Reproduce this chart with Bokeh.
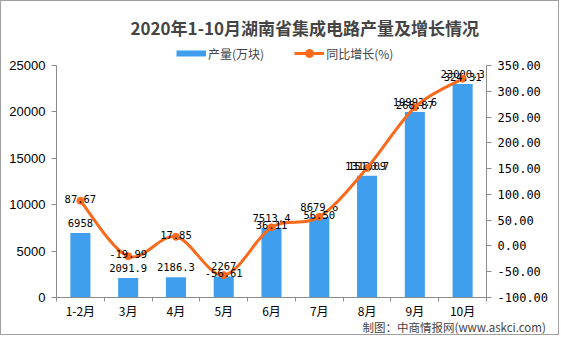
from bokeh.plotting import figure
from bokeh.models import (Range1d, LinearAxis, FixedTicker, NumeralTickFormatter,
                          ColumnDataSource, Legend, LegendItem, Title)
from bokeh.embed import file_html
from bokeh.resources import INLINE
from bokeh.core.properties import value

# ---- data ----
months = ["1-2月", "3月", "4月", "5月", "6月", "7月", "8月", "9月", "10月"]
output = [6958, 2091.9, 2186.3, 2267, 7513.4, 8679.6, 13130.7, 19993.6, 23000.3]
growth = [87.67, -19.99, 17.85, -56.61, 36.11, 56.50, 151.09, 268.87, 324.31]
left_ticks = [0, 5000, 10000, 15000, 20000, 25000]
right_ticks = [-100, -50, 0, 50, 100, 150, 200, 250, 300, 350]

BAR = "#409EEF"
ORANGE = "#FA6A1C"
AXIS = "#8c8c8c"
CJK = "Noto Sans CJK SC"
NAN = float("nan")

# layout (pixels): the frame reaches above the top tick to host the legend
FRAME_TOP, AXIS_TOP, FRAME_BOTTOM = 40, 65, 297
head = (FRAME_BOTTOM - FRAME_TOP) / (FRAME_BOTTOM - AXIS_TOP)

n = len(months)
xc = [i + 0.5 for i in range(n)]
bounds = list(range(n + 1))

l0, l1 = left_ticks[0], left_ticks[-1]
r0, r1 = right_ticks[0], right_ticks[-1]

p = figure(width=559, height=335, output_backend="svg", toolbar_location=None,
           x_range=Range1d(0, n), y_range=Range1d(l0, l0 + (l1 - l0) * head),
           min_border_left=55, min_border_right=74, min_border_top=FRAME_TOP - 1,
           min_border_bottom=335 - (FRAME_BOTTOM - 1), outline_line_color=None,
           background_fill_color="white", border_fill_color="white")
p.extra_y_ranges = {"growth": Range1d(r0, r0 + (r1 - r0) * head)}
p.grid.visible = False
p.styles = {"border": "1px solid #a0a0a0"}

# x axis
xa = p.xaxis[0]
xa.ticker = FixedTicker(ticks=xc, minor_ticks=bounds)
xa.major_label_overrides = {x: m for x, m in zip(xc, months)}
xa.major_tick_line_color = None
xa.major_tick_in = 0
xa.major_tick_out = 0
xa.minor_tick_in = 0
xa.minor_tick_out = 4
xa.minor_tick_line_color = AXIS
xa.axis_line_color = AXIS
xa.major_label_standoff = 0
xa.major_label_text_font = CJK
xa.major_label_text_font_size = "12px"
xa.major_label_text_color = "black"

# left axis
ya = p.yaxis[0]
ya.bounds = (l0, l1)
ya.ticker = FixedTicker(ticks=left_ticks)
ya.formatter = NumeralTickFormatter(format="0")
ya.major_tick_in = 0
ya.major_tick_out = 5
ya.minor_tick_line_color = None
ya.axis_line_color = AXIS
ya.major_tick_line_color = AXIS
ya.major_label_standoff = 6
ya.major_label_text_font = "Liberation Sans"
ya.major_label_text_font_size = "13px"
ya.major_label_text_color = "black"

# right axis
ra = LinearAxis(y_range_name="growth", ticker=FixedTicker(ticks=right_ticks),
                formatter=NumeralTickFormatter(format="0.00"), bounds=(r0, r1))
ra.major_tick_in = 0
ra.major_tick_out = 5
ra.minor_tick_line_color = None
ra.axis_line_color = AXIS
ra.major_tick_line_color = AXIS
ra.major_label_standoff = 6
ra.major_label_text_font = "DejaVu Sans Mono"
ra.major_label_text_font_size = "12px"
ra.major_label_text_color = "black"
p.add_layout(ra, "right")

src = ColumnDataSource(dict(
    x=xc, top=output, label=[f"{v:g}" for v in output],
    g=growth, glabel=[f"{v:.2f}" for v in growth]))

# bars
p.vbar(x="x", top="top", bottom=0, width=0.42, source=src,
       fill_color=BAR, line_color=None)
p.text(x="x", y="top", text="label", source=src, text_align="center",
       text_baseline="bottom", y_offset=-6, text_font=value("DejaVu Sans Mono"),
       text_font_size="10.5px", text_color="black")

# smooth growth line (Catmull-Rom -> cubic Bezier through the data points)
pts = list(zip(xc, growth))
bx0, by0, bx1, by1, bcx0, bcy0, bcx1, bcy1 = ([] for _ in range(8))
for i in range(n - 1):
    p0 = pts[max(i - 1, 0)]
    p1 = pts[i]
    p2 = pts[i + 1]
    p3 = pts[min(i + 2, n - 1)]
    bx0.append(p1[0]); by0.append(p1[1])
    bx1.append(p2[0]); by1.append(p2[1])
    bcx0.append(p1[0] + (p2[0] - p0[0]) / 6)
    bcy0.append(p1[1] + (p2[1] - p0[1]) / 6)
    bcx1.append(p2[0] - (p3[0] - p1[0]) / 6)
    bcy1.append(p2[1] - (p3[1] - p1[1]) / 6)
p.bezier(x0=bx0, y0=by0, x1=bx1, y1=by1, cx0=bcx0, cy0=bcy0, cx1=bcx1, cy1=bcy1,
         line_color=ORANGE, line_width=3, y_range_name="growth")
p.scatter(x="x", y="g", source=src, size=7, fill_color=ORANGE, line_color=ORANGE,
          y_range_name="growth")
p.text(x="x", y="g", text="glabel", source=src, text_align="center",
       text_baseline="middle", y_offset=-2, text_font=value("DejaVu Sans Mono"),
       text_font_size="10.5px", text_color="black", y_range_name="growth")

# legend (invisible proxy renderers), placed in the headroom above the axes
leg_bar = p.line(x=[NAN], y=[NAN], line_color=BAR, line_width=6, line_cap="butt")
leg_line = p.line(x=[NAN], y=[NAN], line_color=ORANGE, line_width=3)
leg_dot = p.scatter(x=[NAN], y=[NAN], size=7, fill_color=ORANGE, line_color=ORANGE)
legend = Legend(items=[LegendItem(label="产量(万块)", renderers=[leg_bar]),
                       LegendItem(label="同比增长(%)", renderers=[leg_line, leg_dot])],
                orientation="horizontal", glyph_width=30, glyph_height=20,
                label_standoff=2, spacing=30, padding=2, margin=0,
                border_line_color=None, background_fill_alpha=0,
                label_text_font=CJK, label_text_font_size="12px",
                location=(120, FRAME_BOTTOM - 63))
p.add_layout(legend, "center")

# title
p.title.text = "2020年1-10月湖南省集成电路产量及增长情况"
p.title.text_font = CJK
p.title.text_font_size = "17px"
p.title.text_font_style = "bold"
p.title.align = "left"
p.title.offset = 74
p.title.standoff = 2

# source note
p.add_layout(Title(text="制图：中商情报网(www.askci.com)", text_font=CJK,
                   text_font_size="11.5px", text_font_style="normal",
                   align="left", offset=306, standoff=-10), "below")

open("out.html", "w").write(file_html(p, INLINE))
